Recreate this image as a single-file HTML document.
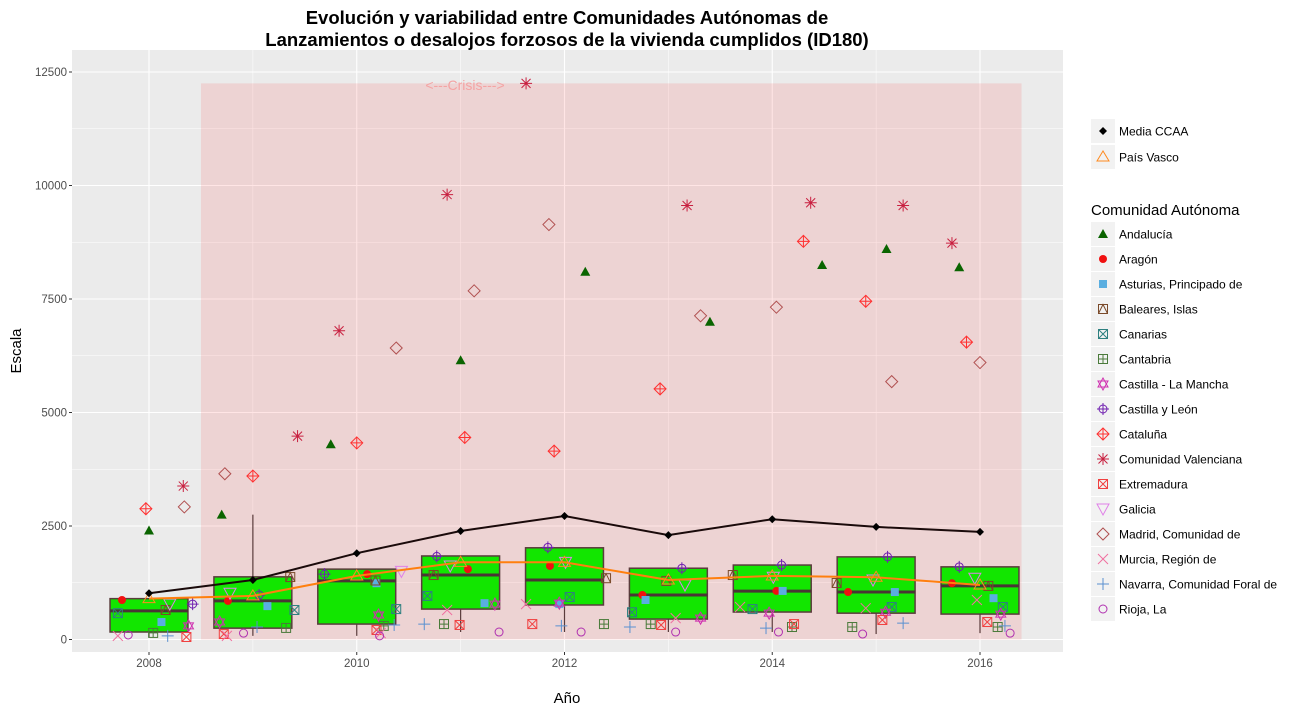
<!DOCTYPE html>
<html><head><meta charset="utf-8">
<style>
body{margin:0;background:#fff;}
svg{display:block;font-family:"Liberation Sans",Arial,sans-serif;}
</style></head>
<body>
<svg id="chart" width="1299" height="710" xmlns="http://www.w3.org/2000/svg"></svg>
<script>
const years=[2008,2009,2010,2011,2012,2013,2014,2015,2016];
const yTicks=[0,2500,5000,7500,10000,12500];
const xTicks=[2008,2010,2012,2014,2016];
const boxQ1=[165,250,340,670,760,450,605,580,560];
const boxMed=[630,850,1290,1420,1310,980,1065,1045,1180];
const boxQ3=[900,1380,1550,1840,2020,1570,1640,1820,1600];
const whiskLo=[55,80,80,165,165,165,165,120,140];
const whiskHi=[900,2750,1550,1840,2020,1570,1640,1820,1600];
const mediaCCAA=[1020,1310,1900,2390,2720,2300,2650,2480,2370];
const paisVasco=[900,960,1400,1700,1700,1310,1400,1370,1200];
const crisisStart=2008.5, crisisEnd=2016.4, crisisTop=12250;
const andalucia=[2400,2750,4300,6150,8100,7000,8250,8600,8200];
const andaluciaJit=[0,-0.3,-0.25,0,0.2,0.4,0.48,0.1,-0.2];
const aragon=[870,850,1440,1550,1620,980,1070,1045,1240];
const aragonJit=[-0.26,-0.24,0.1,0.07,-0.14,-0.25,0.04,-0.27,-0.27];
const asturias=[385,735,1240,800,780,870,1070,1045,910];
const asturiasJit=[0.12,0.14,0.19,0.23,-0.05,-0.22,0.1,0.18,0.13];
const baleares=[650,1375,1300,1420,1350,1290,1420,1245,1180];
const balearesJit=[0.16,0.36,0.18,-0.26,0.4,-0.02,-0.38,-0.38,0.08];
const canarias=[580,650,670,960,935,600,670,715,715];
const canariasJit=[-0.3,0.4,0.38,-0.32,0.05,-0.35,-0.19,0.15,0.22];
const cantabria=[145,255,300,340,340,340,275,275,275];
const cantabriaJit=[0.04,0.32,0.26,-0.16,0.38,-0.17,0.19,-0.23,0.17];
const clm=[300,385,540,780,800,470,580,600,560];
const clmJit=[0.38,-0.32,0.21,0.33,-0.05,0.31,-0.03,0.09,0.2];
const cyl=[780,980,1440,1830,2030,1570,1640,1820,1600];
const cylJit=[0.42,0.06,-0.31,-0.23,-0.16,0.13,0.09,0.11,-0.2];
const cataluna=[2880,3600,4330,4450,4150,5520,8770,7450,6550];
const catalunaJit=[-0.03,0,0,0.04,-0.1,-0.08,0.3,-0.1,-0.13];
const valenciana=[3380,4480,6800,9800,12250,9560,9620,9560,8730];
const valencianaJit=[0.33,0.43,-0.17,-0.13,-0.37,0.18,0.37,0.26,-0.27];
const extremadura=[55,120,210,320,340,320,340,430,385];
const extremaduraJit=[0.36,-0.28,0.19,-0.01,-0.31,-0.07,0.21,0.06,0.07];
const galicia=[780,1020,1500,1620,1700,1200,1370,1310,1350];
const galiciaJit=[0.2,-0.22,0.43,-0.1,0.01,0.16,0.01,-0.03,-0.05];
const madrid=[2920,3650,6420,7680,9140,7130,7320,5680,6100];
const madridJit=[0.34,-0.27,0.38,0.13,-0.15,0.31,0.04,0.15,0];
const murcia=[80,80,140,650,780,470,715,690,870];
const murciaJit=[-0.3,-0.25,0.23,-0.13,-0.37,0.07,-0.31,-0.1,-0.03];
const navarra=[80,275,320,340,300,275,250,360,300];
const navarraJit=[0.18,0.04,0.36,-0.35,-0.03,-0.37,-0.06,0.26,0.24];
const rioja=[100,140,80,165,165,165,165,120,140];
const riojaJit=[-0.2,-0.09,0.22,0.37,0.16,0.07,0.06,-0.13,0.29];

const NS="http://www.w3.org/2000/svg";
const svg=document.getElementById('chart');
const PL=72,PR=1063,PT=50,PB=652;
function X(yr){return 149+(yr-2008)*103.875;}
function Y(v){return 639.5-v*0.0454;}
function el(tag,attrs,parent){const e=document.createElementNS(NS,tag);for(const k in attrs)e.setAttribute(k,attrs[k]);(parent||svg).appendChild(e);return e;}
function txt(s,attrs,parent){const e=el('text',attrs,parent);e.textContent=s;return e;}

// panel
const panel=el('rect',{x:PL,y:PT,width:PR-PL,height:PB-PT,fill:'#ebebeb'});

const grid=el('g',{});

for(let i=0;i<yTicks.length;i++){
  el('line',{x1:PL,x2:PR,y1:Y(yTicks[i]),y2:Y(yTicks[i]),stroke:'#fff','stroke-width':1.1},grid);
  if(i<yTicks.length-1){const m=(yTicks[i]+yTicks[i+1])/2;el('line',{x1:PL,x2:PR,y1:Y(m),y2:Y(m),stroke:'#fff','stroke-width':0.5},grid);}
}
for(let yr=2008;yr<=2016;yr++){
  const major=xTicks.includes(yr);
  el('line',{x1:X(yr),x2:X(yr),y1:PT,y2:PB,stroke:'#fff','stroke-width':major?1.1:0.5},grid);
}
// crisis rect
const cr=el('rect',{x:X(crisisStart),y:Y(crisisTop),width:X(crisisEnd)-X(crisisStart),height:Y(0)-Y(crisisTop),fill:'#ff0000','fill-opacity':0.1});

const ct=txt('<---Crisis--->',{x:465,y:90,'text-anchor':'middle','font-size':14,fill:'#f4a3a3'});


// boxes
const boxes=el('g',{});

years.forEach((yr,i)=>{
  const g=el('g',{},boxes);
  
  const cx=X(yr),hw=0.375*103.875;
  el('line',{x1:cx,x2:cx,y1:Y(whiskHi[i]),y2:Y(boxQ3[i]),stroke:'#5a3c3c','stroke-width':1.2},g);
  el('line',{x1:cx,x2:cx,y1:Y(boxQ1[i]),y2:Y(whiskLo[i]),stroke:'#5a3c3c','stroke-width':1.2},g);
  el('rect',{x:cx-hw,y:Y(boxQ3[i]),width:2*hw,height:Y(boxQ1[i])-Y(boxQ3[i]),fill:'#12e600',stroke:'#5a3c3c','stroke-width':1.5},g);
  el('line',{x1:cx-hw,x2:cx+hw,y1:Y(boxMed[i]),y2:Y(boxMed[i]),stroke:'#4a3535','stroke-width':3},g);
});

// markers
function marker(shape,color,x,y,parent){
  const g=el('g',{fill:'none',stroke:color,'stroke-width':1},parent);
  const s=4.5;
  switch(shape){
    case 'tri': el('polygon',{points:`${x},${y-5} ${x-5},${y+4} ${x+5},${y+4}`,fill:color,stroke:'none'},g);break;
    case 'dot': el('circle',{cx:x,cy:y,r:4,fill:color,stroke:'none'},g);break;
    case 'sq': el('rect',{x:x-4,y:y-4,width:8,height:8,fill:color,stroke:'none'},g);break;
    case 'sqslash': el('rect',{x:x-s,y:y-s,width:2*s,height:2*s},g);el('path',{d:`M${x-s},${y+s}L${x},${y-s}L${x+s},${y+s}`},g);break;
    case 'sqx': el('rect',{x:x-s,y:y-s,width:2*s,height:2*s},g);el('path',{d:`M${x-s},${y-s}L${x+s},${y+s}M${x+s},${y-s}L${x-s},${y+s}`},g);break;
    case 'sqplus': el('rect',{x:x-s,y:y-s,width:2*s,height:2*s},g);el('path',{d:`M${x},${y-s}V${y+s}M${x-s},${y}H${x+s}`},g);break;
    case 'star6': el('polygon',{points:`${x},${y-6} ${x-5},${y+3} ${x+5},${y+3}`},g);el('polygon',{points:`${x},${y+6} ${x-5},${y-3} ${x+5},${y-3}`},g);break;
    case 'cplus': el('circle',{cx:x,cy:y,r:4},g);el('path',{d:`M${x},${y-6}V${y+6}M${x-6},${y}H${x+6}`},g);break;
    case 'dplus': el('polygon',{points:`${x},${y-6} ${x+6},${y} ${x},${y+6} ${x-6},${y}`},g);el('path',{d:`M${x},${y-6}V${y+6}M${x-6},${y}H${x+6}`},g);break;
    case 'aster': el('path',{d:`M${x},${y-6}V${y+6}M${x-6},${y}H${x+6}M${x-4.5},${y-4.5}L${x+4.5},${y+4.5}M${x+4.5},${y-4.5}L${x-4.5},${y+4.5}`},g);break;
    case 'dtri': el('polygon',{points:`${x-6},${y-5} ${x+6},${y-5} ${x},${y+6}`},g);break;
    case 'diam': el('polygon',{points:`${x},${y-6} ${x+6},${y} ${x},${y+6} ${x-6},${y}`},g);break;
    case 'x': el('path',{d:`M${x-5},${y-5}L${x+5},${y+5}M${x+5},${y-5}L${x-5},${y+5}`},g);break;
    case 'plus': el('path',{d:`M${x},${y-6}V${y+6}M${x-6},${y}H${x+6}`},g);break;
    case 'circ': el('circle',{cx:x,cy:y,r:4},g);break;
    case 'otri': el('polygon',{points:`${x},${y-6} ${x-6},${y+4} ${x+6},${y+4}`},g);break;
    case 'ddot': el('polygon',{points:`${x},${y-4} ${x+4},${y} ${x},${y+4} ${x-4},${y}`,fill:color,stroke:'none'},g);break;
  }
  return g;
}
const series=[
 ['Andalucía','andalucia','tri','#0a6400',andalucia,andaluciaJit],
 ['Aragón','aragon','dot','#f01010',aragon,aragonJit],
 ['Asturias, Principado de','asturias','sq','#5aaee0',asturias,asturiasJit],
 ['Baleares, Islas','baleares','sqslash','#7a4a2a',baleares,balearesJit],
 ['Canarias','canarias','sqx','#2e8080',canarias,canariasJit],
 ['Cantabria','cantabria','sqplus','#4a7a3a',cantabria,cantabriaJit],
 ['Castilla - La Mancha','castilla-la-mancha','star6','#d030b0',clm,clmJit],
 ['Castilla y León','castilla-y-leon','cplus','#7020b0',cyl,cylJit],
 ['Cataluña','cataluna','dplus','#ff3030',cataluna,catalunaJit],
 ['Comunidad Valenciana','comunidad-valenciana','aster','#c82040',valenciana,valencianaJit],
 ['Extremadura','extremadura','sqx','#f04040',extremadura,extremaduraJit],
 ['Galicia','galicia','dtri','#e080e8',galicia,galiciaJit],
 ['Madrid, Comunidad de','madrid','diam','#b05050',madrid,madridJit],
 ['Murcia, Región de','murcia','x','#f070a0',murcia,murciaJit],
 ['Navarra, Comunidad Foral de','navarra','plus','#5a90d0',navarra,navarraJit],
 ['Rioja, La','rioja','circ','#b030b0',rioja,riojaJit]
];
const pts=el('g',{});

series.forEach(s=>{
  const g=el('g',{},pts);
  
  s[4].forEach((v,i)=>{const m=marker(s[2],s[3],X(years[i]+s[5][i]),Y(v),g);
    });
});

// lines
function linePath(vals){return vals.map((v,i)=>(i?'L':'M')+X(years[i]).toFixed(1)+','+Y(v).toFixed(1)).join('');}
const pv=el('g',{});

el('path',{d:linePath(paisVasco),fill:'none',stroke:'#ff7f0e','stroke-width':2},pv);
paisVasco.forEach((v,i)=>{const m=marker('otri','#ff8a20',X(years[i]),Y(v),pv);});
const mc=el('g',{});

el('path',{d:linePath(mediaCCAA),fill:'none',stroke:'#1a0a0a','stroke-width':2},mc);
mediaCCAA.forEach((v,i)=>{const m=marker('ddot','#000',X(years[i]),Y(v),mc);});

// axes
const ya=el('g',{});

yTicks.forEach(t=>{el('line',{x1:PL-3,x2:PL,y1:Y(t),y2:Y(t),stroke:'#333'},ya);
  txt(String(t),{x:PL-5,y:Y(t)+4,'text-anchor':'end','font-size':11.5,fill:'#4d4d4d'},ya);});
const xa=el('g',{});

xTicks.forEach(t=>{el('line',{x1:X(t),x2:X(t),y1:PB,y2:PB+3,stroke:'#333'},xa);
  txt(String(t),{x:X(t),y:PB+15,'text-anchor':'middle','font-size':11.5,fill:'#4d4d4d'},xa);});
const xt=txt('Año',{x:567,y:703,'text-anchor':'middle','font-size':15,fill:'#000'});

const yt=txt('Escala',{x:21,y:351,'text-anchor':'middle','font-size':15,fill:'#000',transform:'rotate(-90 21 351)'});

const t1=txt('Evolución y variabilidad entre Comunidades Autónomas de',{x:567,y:24,'text-anchor':'middle','font-size':18.5,'font-weight':'bold'});

const t2=txt('Lanzamientos o desalojos forzosos de la vivienda cumplidos (ID180)',{x:567,y:46,'text-anchor':'middle','font-size':18.5,'font-weight':'bold'});


// legend
const lg=el('g',{});

function legRow(y,label,shape,color,name){
  const g=el('g',{},lg);
  
  el('rect',{x:1091,y:y-12,width:24,height:24,fill:'#f2f2f2'},g);
  marker(shape,color,1103,y,g);
  txt(label,{x:1119,y:y+4.5,'font-size':12,fill:'#000'},g);
}
legRow(131,'Media CCAA','ddot','#000','media-ccaa');
legRow(157,'País Vasco','otri','#ff8a20','pais-vasco');
const lt=txt('Comunidad Autónoma',{x:1091,y:215,'font-size':15,fill:'#000'},lg);

series.forEach((s,i)=>legRow(234+i*25,s[0],s[2],s[3],s[1]));
</script>
</body></html>
